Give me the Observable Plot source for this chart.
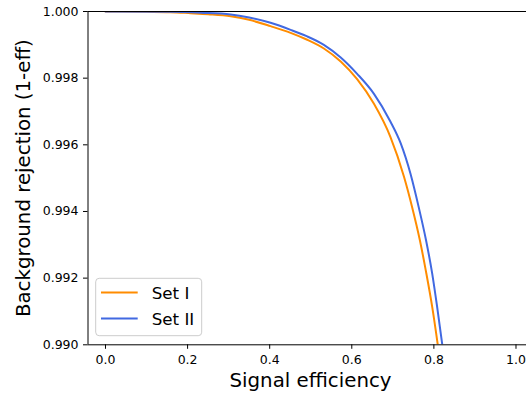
<!DOCTYPE html>
<html>
<head>
<meta charset="utf-8">
<script src="https://cdn.jsdelivr.net/npm/d3@7"></script>
<script src="https://cdn.jsdelivr.net/npm/@observablehq/plot@0.6"></script>
<style>
  html, body { margin: 0; padding: 0; background: white; overflow: hidden; }
  #wrap { position: relative; width: 526px; height: 393px; }
  #legend { position: absolute; left: 0; top: 0; pointer-events: none; }
</style>
</head>
<body>
<div id="wrap"></div>
<script>
// ---- data ----
const seriesNames = ["Set I", "Set II"];
const seriesColors = ["#ff8c00", "#4169e1"];

const setIEff = [0.0, 0.1, 0.158, 0.207, 0.25, 0.305, 0.35, 0.402, 0.451, 0.490, 0.532, 0.573, 0.613, 0.654, 0.694, 0.727, 0.747, 0.766, 0.781, 0.796, 0.8095];
const setIRej = [1.0, 0.99999, 0.99998, 0.99995, 0.99992, 0.99986, 0.99975, 0.99956, 0.99936, 0.99916, 0.99889, 0.99850, 0.99797, 0.99723, 0.99624, 0.99505, 0.99413, 0.99313, 0.99218, 0.99113, 0.990];

const setIIEff = [0.0, 0.158, 0.233, 0.305, 0.35, 0.402, 0.451, 0.490, 0.532, 0.573, 0.613, 0.654, 0.694, 0.719, 0.743, 0.763, 0.781, 0.796, 0.808, 0.8205];
const setIIRej = [1.0, 0.99999, 0.99996, 0.99991, 0.99982, 0.99966, 0.99945, 0.99926, 0.99900, 0.99862, 0.99813, 0.99753, 0.99670, 0.99605, 0.99513, 0.99413, 0.99313, 0.99213, 0.99113, 0.990];

const xTicks = [0.0, 0.2, 0.4, 0.6, 0.8, 1.0];
const yTicks = [0.990, 0.992, 0.994, 0.996, 0.998, 1.000];
const xLabel = "Signal efficiency";
const yLabel = "Background rejection (1-eff)";
const xDomain = [-0.0426, 1.0256];
const yDomain = [0.990, 1.000];

// ---- build tables ----
const dataI = setIEff.map((e, i) => ({eff: e, rej: setIRej[i]}));
const dataII = setIIEff.map((e, i) => ({eff: e, rej: setIIRej[i]}));

const chart = Plot.plot({
  width: 526,
  height: 393,
  marginLeft: 87.5,
  marginRight: 0,
  marginTop: 11,
  marginBottom: 48.7,
  style: {fontFamily: "DejaVu Sans", fontSize: "12.5px", color: "black", background: "white"},
  x: {domain: xDomain, ticks: xTicks, tickFormat: d3.format(".1f"), label: null, tickSize: 4.5, tickPadding: 6.3},
  y: {domain: yDomain, ticks: yTicks, tickFormat: d3.format(".3f"), label: null, tickSize: 4.5, tickPadding: 5},
  marks: [
    Plot.line(dataI, {x: "eff", y: "rej", stroke: seriesColors[0], strokeWidth: 2, curve: "monotone-x", clip: true}),
    Plot.line(dataII, {x: "eff", y: "rej", stroke: seriesColors[1], strokeWidth: 2, curve: "monotone-x", clip: true}),
    Plot.ruleY([yDomain[1]], {stroke: "black", strokeWidth: 1}),
    Plot.ruleY([yDomain[0]], {stroke: "black", strokeWidth: 1}),
    Plot.ruleX([xDomain[0]], {stroke: "black", strokeWidth: 1}),
    Plot.text([xLabel], {frameAnchor: "bottom", dx: 3.25, dy: 42.4, lineAnchor: "bottom", fontSize: 19.8, fill: "black"}),
    Plot.text([yLabel], {frameAnchor: "left", textAnchor: "middle", rotate: -90, dx: -58, lineAnchor: "bottom", fontSize: 19.8, fill: "black"})
  ]
});

const wrap = document.getElementById("wrap");
wrap.appendChild(chart);

// ---- legend (inside the axes, lower left) ----
const leg = d3.select(wrap).append("svg")
  .attr("id", "legend")
  .attr("width", 526).attr("height", 393);
leg.append("rect")
  .attr("x", 95.7).attr("y", 278.3).attr("width", 106).attr("height", 57.4)
  .attr("rx", 3.5)
  .attr("fill", "white").attr("fill-opacity", 0.8)
  .attr("stroke", "#cccccc").attr("stroke-width", 1);
const rowY = [292.6, 318.4];
seriesNames.forEach((name, i) => {
  leg.append("line")
    .attr("x1", 101).attr("x2", 137.7)
    .attr("y1", rowY[i]).attr("y2", rowY[i])
    .attr("stroke", seriesColors[i]).attr("stroke-width", 2);
  leg.append("text")
    .attr("x", 151.7).attr("y", rowY[i] + 6.3)
    .attr("font-family", "DejaVu Sans").attr("font-size", 16.7)
    .attr("fill", "black")
    .text(name);
});
</script>
</body>
</html>
